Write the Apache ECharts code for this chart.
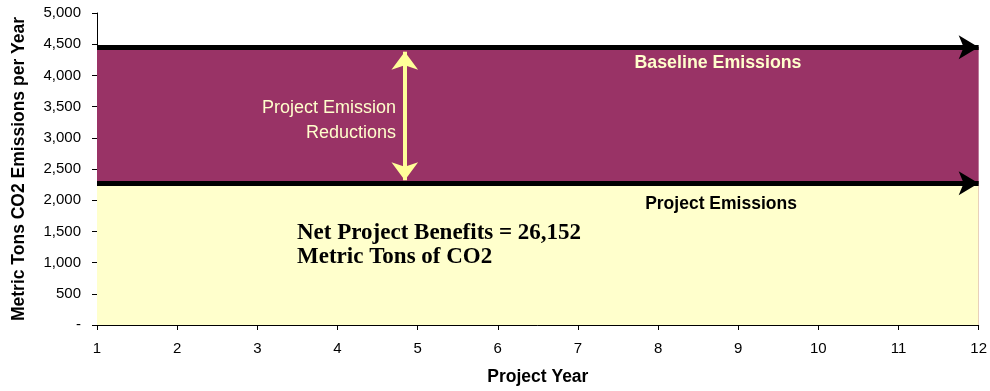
<!DOCTYPE html>
<html>
<head>
<meta charset="utf-8">
<script src="https://cdn.jsdelivr.net/npm/echarts@6/dist/echarts.min.js"></script>
<style>
html,body{margin:0;padding:0;background:#fff;}
#c{width:990px;height:391px;}
</style>
</head>
<body>
<div id="c"></div>
<script>
// ---- data ----
var years = [1, 2, 3, 4, 5, 6, 7, 8, 9, 10, 11, 12];
var baselineEmissions = [4450, 4450, 4450, 4450, 4450, 4450, 4450, 4450, 4450, 4450, 4450, 4450];
var projectEmissions = [2270, 2270, 2270, 2270, 2270, 2270, 2270, 2270, 2270, 2270, 2270, 2270];
var reductionArrowYear = 4.84;
var reductionArrowRange = [4380, 2320];
var yTicks = [0, 500, 1000, 1500, 2000, 2500, 3000, 3500, 4000, 4500, 5000];

var SANS = '"Liberation Sans", Arial, sans-serif';
var SERIF = '"Liberation Serif", "Times New Roman", serif';

function pairs(xs, ys) { return xs.map(function (x, i) { return [x, ys[i]]; }); }
function fmt(v) { return v === 0 ? '-' : String(v).replace(/\B(?=(\d{3})+(?!\d))/g, ','); }

var chart = echarts.init(document.getElementById('c'), null, {renderer: 'canvas'});
var last = years.length - 1;

chart.setOption({
  animation: false,
  backgroundColor: '#ffffff',
  grid: {left: 97, right: 10, top: 13, bottom: 63, containLabel: false},
  xAxis: {
    type: 'value', min: 1, max: 12, interval: 1,
    name: 'Project Year', nameLocation: 'middle', nameGap: 43,
    nameTextStyle: {fontFamily: SANS, fontWeight: 'bold', fontSize: 17.5, color: '#000'},
    axisLine: {lineStyle: {color: '#000', width: 1}},
    axisTick: {length: 5, lineStyle: {color: '#000'}},
    axisLabel: {fontFamily: SANS, fontSize: 15, color: '#000', margin: 16},
    splitLine: {show: false}
  },
  yAxis: {
    type: 'value', min: yTicks[0], max: yTicks[yTicks.length - 1], interval: 500,
    name: 'Metric Tons CO2 Emissions per Year', nameLocation: 'middle', nameGap: 69,
    nameTextStyle: {fontFamily: SANS, fontWeight: 'bold', fontSize: 17.5, color: '#000'},
    axisLine: {show: true, lineStyle: {color: '#000', width: 1}},
    axisTick: {show: true, length: 5, lineStyle: {color: '#000'}},
    axisLabel: {fontFamily: SANS, fontSize: 15, color: '#000', margin: 16, formatter: fmt},
    splitLine: {show: false}
  },
  series: [
    {
      name: 'Baseline Emissions', type: 'line', data: pairs(years, baselineEmissions),
      symbol: 'none', lineStyle: {width: 0}, areaStyle: {color: '#993366', opacity: 1},
      z: 2,
      markLine: {
        silent: true, symbol: ['none', 'arrow'], symbolSize: [18, 20],
        label: {show: false},
        lineStyle: {color: '#000', width: 5, type: 'solid'},
        data: [[{coord: [years[0], baselineEmissions[0]]}, {coord: [years[last], baselineEmissions[last]]}]]
      }
    },
    {
      name: 'Project Emissions', type: 'line', data: pairs(years, projectEmissions),
      symbol: 'none', lineStyle: {width: 0}, areaStyle: {color: '#FFFFCC', opacity: 1},
      z: 3,
      markLine: {
        silent: true, symbol: ['none', 'arrow'], symbolSize: [18, 20],
        label: {show: false},
        lineStyle: {color: '#000', width: 5, type: 'solid'},
        data: [[{coord: [years[0], projectEmissions[0]]}, {coord: [years[last], projectEmissions[last]]}]]
      }
    },
    {
      name: 'Reductions', type: 'line', data: [], z: 4,
      markLine: {
        silent: true, symbol: ['arrow', 'arrow'], symbolSize: [20, 18],
        label: {show: false},
        lineStyle: {color: '#FFFF99', width: 4, type: 'solid'},
        data: [[{coord: [reductionArrowYear, reductionArrowRange[0]]}, {coord: [reductionArrowYear, reductionArrowRange[1]]}]]
      }
    }
  ],
  graphic: [
    {type: 'text', x: 396, y: 96, z: 100,
     style: {text: 'Project Emission\nReductions', fill: '#FFFFCC', font: '18px ' + SANS,
             textAlign: 'right', textVerticalAlign: 'top', lineHeight: 25}},
    {type: 'text', x: 718, y: 63, z: 100,
     style: {text: 'Baseline Emissions', fill: '#FFFFCC', font: 'bold 17.8px ' + SANS,
             textAlign: 'center', textVerticalAlign: 'middle'}},
    {type: 'text', x: 721, y: 204, z: 100,
     style: {text: 'Project Emissions', fill: '#000', font: 'bold 17.5px ' + SANS,
             textAlign: 'center', textVerticalAlign: 'middle'}},
    {type: 'text', x: 297, y: 221, z: 100,
     style: {text: 'Net Project Benefits = 26,152\nMetric Tons of CO2', fill: '#000', font: 'bold 23px ' + SERIF,
             textAlign: 'left', textVerticalAlign: 'top', lineHeight: 24}}
  ]
});
</script>
</body>
</html>
